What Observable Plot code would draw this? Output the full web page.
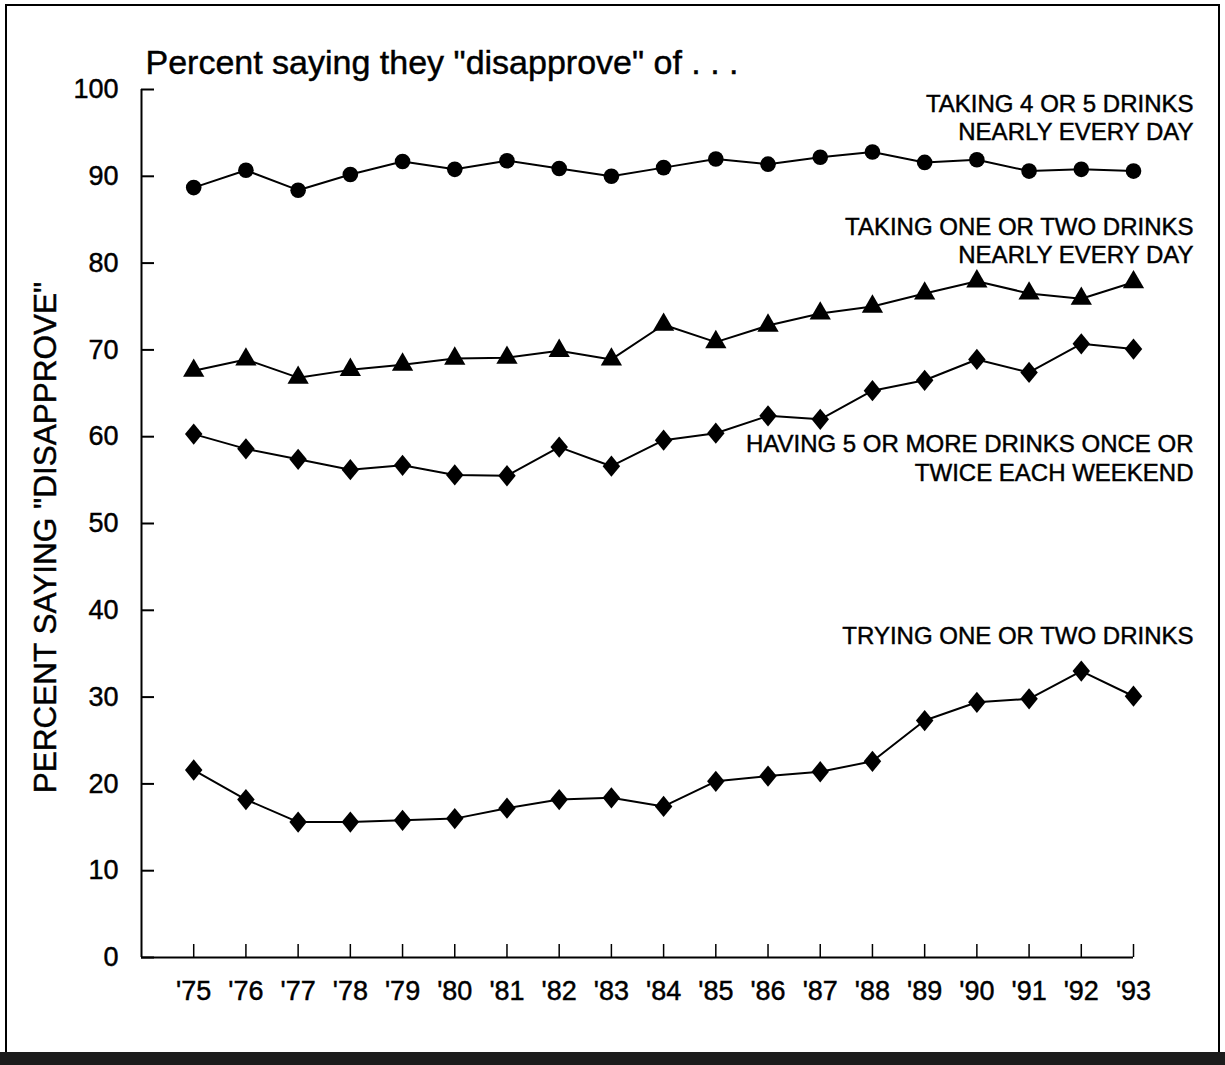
<!DOCTYPE html>
<html><head><meta charset="utf-8">
<script src="https://cdn.jsdelivr.net/npm/d3@7"></script>
<script src="https://cdn.jsdelivr.net/npm/@observablehq/plot@0.6"></script>
<style>
body{margin:0;background:#fff;}
#wrap{position:relative;width:1225px;height:1065px;overflow:hidden;}
#wrap svg{position:absolute;left:0;top:0;}
#wrap svg text{stroke:#000;stroke-width:0.45px;}
#border{position:absolute;left:5px;top:4px;width:1211px;height:1047px;border:2px solid #000;pointer-events:none;}
#band{position:absolute;left:0;top:1052px;width:1225px;height:13px;background:#1c1c1c;}
</style></head><body>
<div id="wrap"><div id="border"></div><div id="band"></div></div>
<script>
const years = [1975,1976,1977,1978,1979,1980,1981,1982,1983,1984,1985,1986,1987,1988,1989,1990,1991,1992,1993];
const yearLabels = ["'75","'76","'77","'78","'79","'80","'81","'82","'83","'84","'85","'86","'87","'88","'89","'90","'91","'92","'93"];
const yTicks = [0,10,20,30,40,50,60,70,80,90,100];

const fourFiveDaily   = [88.7,90.7,88.4,90.2,91.7,90.8,91.8,90.9,90.0,91.0,92.0,91.4,92.2,92.8,91.6,91.9,90.6,90.8,90.6];
const oneTwoDaily     = [67.6,68.9,66.8,67.7,68.3,69.0,69.1,69.9,68.9,72.9,70.9,72.8,74.2,75.0,76.5,77.9,76.5,75.9,77.8];
const fivePlusWeekend = [60.3,58.6,57.4,56.2,56.7,55.6,55.5,58.8,56.6,59.6,60.4,62.4,62.0,65.3,66.5,68.9,67.4,70.7,70.1];
const tryingOneTwo    = [21.6,18.2,15.6,15.6,15.8,16.0,17.2,18.2,18.4,17.4,20.3,20.9,21.4,22.6,27.3,29.4,29.8,33.0,30.1];

const seriesLabels = [
  "TAKING 4 OR 5 DRINKS\nNEARLY EVERY DAY",
  "TAKING ONE OR TWO DRINKS\nNEARLY EVERY DAY",
  "HAVING 5 OR MORE DRINKS ONCE OR\nTWICE EACH WEEKEND",
  "TRYING ONE OR TWO DRINKS"
];
const titleText = "Percent saying they \"disapprove\" of . . .";
const yAxisTitle = "PERCENT SAYING \"DISAPPROVE\"";

// build tidy rows
const seriesValues = [fourFiveDaily, oneTwoDaily, fivePlusWeekend, tryingOneTwo];
const rows = seriesValues.flatMap((vals, s) => vals.map((v, i) => ({year: years[i], value: v, series: s})));

const tallDiamond = {draw(ctx, size){ const r = Math.sqrt(size/Math.PI); const h = r*1.4, w = r*1.15;
  ctx.moveTo(0,-h); ctx.lineTo(w,0); ctx.lineTo(0,h); ctx.lineTo(-w,0); ctx.closePath(); }};
const symbols = ["circle", "triangle", tallDiamond, tallDiamond];
const radii = [7.8, 7.9, 7.6, 7.6];

// label anchor heights (value units, layout only)
const labelAnchorY = [96.8, 82.7, 57.6, 37.2];

const font = "'Liberation Sans', Arial, Helvetica, sans-serif";

const marks = [
  Plot.ruleX([1974], {y1: 0, y2: 100, stroke: "#000", strokeWidth: 2}),
  Plot.ruleY([0], {x1: 1974, x2: 1993, stroke: "#000", strokeWidth: 2}),
  Plot.axisY(yTicks, {anchor: "left", label: null, tickSize: -13, tickPadding: 36, fontSize: 27, strokeWidth: 2, fill: "#000", tickFormat: d => String(d)}),
  Plot.axisX(years, {anchor: "bottom", label: null, tickSize: -13, tickPadding: 36, fontSize: 27, strokeWidth: 1.5, fill: "#000", tickFormat: d => yearLabels[years.indexOf(d)]}),
];
seriesValues.forEach((vals, s) => {
  const data = rows.filter(r => r.series === s);
  marks.push(Plot.line(data, {x: "year", y: "value", stroke: "#000", strokeWidth: 2}));
  marks.push(Plot.dot(data, {x: "year", y: "value", symbol: symbols[s], r: radii[s], fill: "#000", stroke: "none"}));
});
marks.push(Plot.text(seriesLabels.map((t, i) => ({t, y: labelAnchorY[i]})), {
  x: () => 1993, y: "y", text: "t", dx: 60, textAnchor: "end", lineAnchor: "middle", lineHeight: 1.17,
  fontSize: 24, fill: "#000"
}));
marks.push(Plot.text([titleText], {frameAnchor: "top-left", dx: 4, dy: -26, textAnchor: "start", lineAnchor: "middle", fontSize: 34, fill: "#000"}));
marks.push(Plot.text([yAxisTitle], {frameAnchor: "left", dx: -96, dy: 14, rotate: -90, textAnchor: "middle", lineAnchor: "middle", fontSize: 31.5, fill: "#000"}));

const chart = Plot.plot({
  width: 1225, height: 1065,
  marginLeft: 141, marginRight: 92, marginTop: 89, marginBottom: 108,
  style: {fontFamily: font, background: "transparent", overflow: "visible", color: "#000"},
  x: {type: "linear", domain: [1974, 1993], label: null},
  y: {type: "linear", domain: [0, 100], label: null},
  marks
});
document.getElementById("wrap").appendChild(chart);
</script>
</body></html>
